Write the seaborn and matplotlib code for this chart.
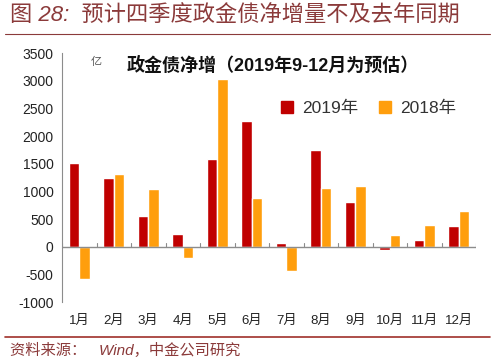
import pandas as pd
import matplotlib.pyplot as plt
import seaborn as sns
from matplotlib.lines import Line2D

months = ['1月', '2月', '3月', '4月', '5月', '6月', '7月', '8月', '9月', '10月', '11月', '12月']
net_2019 = [1510, 1240, 550, 230, 1590, 2270, 60, 1740, 810, -50, 120, 380]
net_2018 = [-580, 1310, 1040, -200, 3040, 880, -440, 1060, 1090, 220, 400, 650]
series = ['2019年', '2018年']
colors = ['#C00000', '#FF9E0D']

df = pd.DataFrame({
    'month': months * 2,
    'value': net_2019 + net_2018,
    'year': [series[0]] * 12 + [series[1]] * 12,
})

sns.set_style('white')
plt.rcParams['font.family'] = ['Liberation Sans', 'Noto Sans CJK SC', 'DejaVu Sans']
plt.rcParams['axes.unicode_minus'] = False

fig = plt.figure(figsize=(5, 3.61), dpi=100)
ax = fig.add_axes([0.124, 0.163, 0.828, 0.69])

sns.barplot(data=df, x='month', y='value', hue='year', order=months, hue_order=series,
            palette=colors, width=0.62, saturation=1, ax=ax, legend=False)

ax.set_ylim(-1000, 3500)
ax.set_xlim(-0.5, 11.5)
ax.set_yticks(range(-1000, 3501, 500))
ax.tick_params(axis='y', labelsize=10, colors='#222222', length=3, direction='in', pad=6)
ax.tick_params(axis='x', labelsize=9.5, colors='#222222', length=0, pad=9)
ax.set_xlabel('')
ax.set_ylabel('')
for s in ['top', 'right', 'bottom']:
    ax.spines[s].set_visible(False)
ax.spines['left'].set_color('#8c8c8c')
ax.axhline(0, color='#8c8c8c', lw=1)
for xb in [i + 0.5 for i in range(-1, 12)]:
    ax.plot([xb, xb], [0, 60], color='#8c8c8c', lw=0.8)

ax.text(0.07, 0.985, '亿', transform=ax.transAxes, fontsize=8, color='#555555', va='top')
ax.text(0.51, 0.985, '政金债净增（2019年9-12月为预估）', transform=ax.transAxes,
        fontsize=13, fontweight='bold', ha='center', va='top', color='#111111')

handles = [Line2D([], [], marker='s', ls='', color=c, markersize=9) for c in colors]
ax.legend(handles, series, loc='upper right', bbox_to_anchor=(0.99, 0.87), ncol=2,
          frameon=False, fontsize=12.5, handletextpad=-0.1, columnspacing=0.5,
          labelcolor='#333333')

fig.text(0.02, 0.955, '图 28:  预计四季度政金债净增量不及去年同期', fontsize=16,
         style='italic', color='#8B3A3A', va='center')
fig.add_artist(Line2D([0.01, 0.98], [0.905, 0.905], color='#8B3A3A', lw=0.8))
fig.add_artist(Line2D([0.01, 0.98], [0.067, 0.067], color='#A0302A', lw=1.2))
fig.text(0.02, 0.03, '资料来源：   Wind，中金公司研究', fontsize=11, style='italic',
         color='#8B3A3A', va='center')

fig.savefig('out.png', dpi=100)
